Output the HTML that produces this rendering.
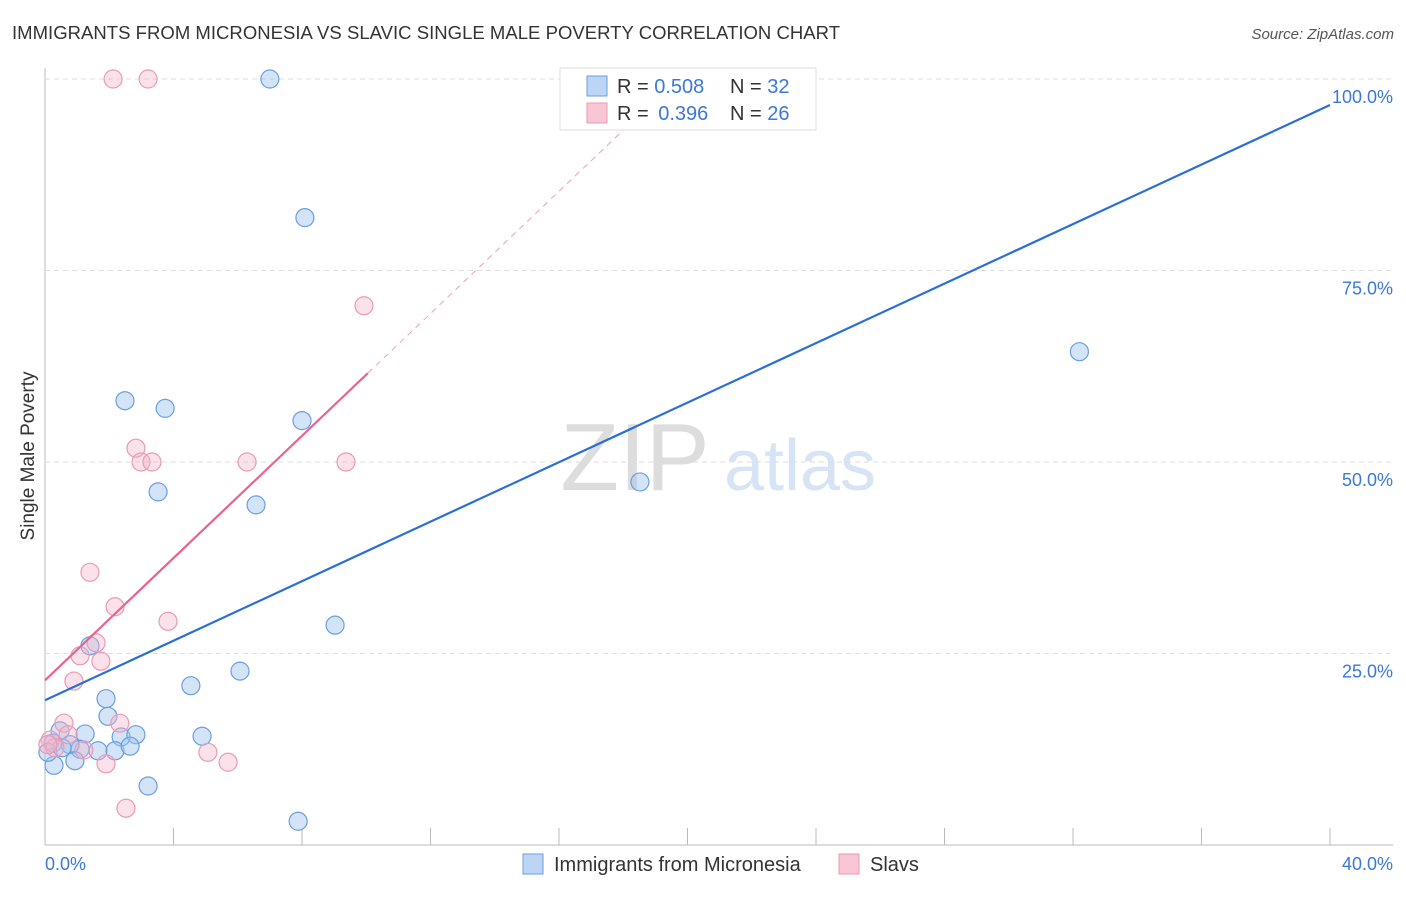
<!DOCTYPE html>
<html><head><meta charset="utf-8"><style>
body{margin:0;background:#fff;font-family:"Liberation Sans",sans-serif}
svg text{font-family:"Liberation Sans",sans-serif}
</style></head><body>
<svg id="c" width="1406" height="892">
<text x="12" y="39" font-size="18.5" fill="#333" textLength="828">IMMIGRANTS FROM MICRONESIA VS SLAVIC SINGLE MALE POVERTY CORRELATION CHART</text>
<text x="1394" y="39" font-size="15" fill="#555" font-style="italic" text-anchor="end">Source: ZipAtlas.com</text>
<text x="635" y="490" font-size="96" fill="#ddd" font-family="Liberation Serif" text-anchor="middle">ZIP</text>
<text x="800" y="490" font-size="72" fill="#d6e4f5" text-anchor="middle">atlas</text>
<g id="grid"></g><g id="pts"></g><g id="trend"></g>
<text transform="translate(34,456) rotate(-90)" font-size="19" fill="#333" text-anchor="middle">Single Male Poverty</text>
<text x="45" y="870" font-size="18" fill="#3b78d8">0.0%</text>
<text x="1393" y="870" font-size="18" fill="#3b78d8" text-anchor="end">40.0%</text>
<g>
<rect x="560" y="68" width="256" height="62" fill="#fff" stroke="#ddd"/>
<rect x="587" y="76" width="20" height="20" fill="#bcd5f5" stroke="#6a9ee0"/>
<rect x="587" y="103" width="20" height="20" fill="#f9c6d6" stroke="#eb9ab4"/>
<text x="617" y="93" font-size="20" fill="#333">R = <tspan fill="#3b78d8">0.508</tspan><tspan x="730">N = </tspan><tspan fill="#3b78d8">32</tspan></text>
<text x="617" y="120" font-size="20" fill="#333">R = <tspan fill="#3b78d8" dx="4">0.396</tspan><tspan x="730">N = </tspan><tspan fill="#3b78d8">26</tspan></text>
</g>
<g>
<rect x="523" y="854" width="20" height="20" fill="#bcd5f5" stroke="#6a9ee0"/>
<text x="554" y="871" font-size="20" fill="#333">Immigrants from Micronesia</text>
<rect x="839" y="854" width="20" height="20" fill="#f9c6d6" stroke="#eb9ab4"/>
<text x="870" y="871" font-size="20" fill="#333">Slavs</text>
</g>
</svg>
<script>
const yTicks=[25,50,75,100];
const yTickLabels=["25.0%","50.0%","75.0%","100.0%"];
const xTicks=[0,4,8,12,16,20,24,28,32,36,40];
const blueX=[7.0,8.09,32.2,2.49,3.74,8.0,3.52,18.52,6.57,9.03,1.40,4.54,6.07,1.90,1.96,4.89,1.25,0.47,2.37,2.83,0.25,1.65,2.18,2.65,1.09,0.78,0.93,0.28,0.09,3.21,7.88,0.53];
const blueY=[100,81.9,64.4,58.0,57.0,55.4,46.1,47.4,44.4,28.7,26.0,20.8,22.7,19.1,16.8,14.2,14.5,14.9,14.1,14.4,13.3,12.3,12.3,12.9,12.5,13.1,11.0,10.4,12.1,7.7,3.1,12.7];
const pinkX=[2.12,3.21,9.93,2.83,2.99,3.33,6.29,9.37,1.40,2.18,3.83,1.59,1.09,1.74,0.90,0.59,2.33,0.72,0.16,0.31,1.21,5.07,1.90,5.70,2.52,0.09];
const pinkY=[100,100,70.4,51.8,50,50,50,50,35.6,31.1,29.2,26.4,24.7,24.0,21.4,15.9,15.9,14.4,13.7,12.7,12.4,12.1,10.6,10.8,4.8,13.1];
const blueTrend=[18.9,96.6];
const pinkTrend=[21.5,61.6];
const xs=v=>45+v*32.125, ys=v=>845-v*7.66;
const NS="http://www.w3.org/2000/svg";
function mk(t,a,p){const e=document.createElementNS(NS,t);for(const k in a)e.setAttribute(k,a[k]);p.appendChild(e);return e;}
const grid=document.getElementById('grid');
mk('line',{x1:45,y1:68,x2:45,y2:845,stroke:'#bbb'},grid);
mk('line',{x1:45,y1:845,x2:1393,y2:845,stroke:'#bbb'},grid);
yTicks.forEach((t,i)=>{
 const l=mk('line',{x1:45,y1:ys(t),x2:1393,y2:ys(t),stroke:'#ddd','stroke-dasharray':'5,4'},grid);
 
 
 const tx=mk('text',{x:1393,y:ys(t)+24,'font-size':18,fill:'#3b78d8','text-anchor':'end'},grid);
 tx.textContent=yTickLabels[i];
 
 
});
xTicks.forEach(t=>{
 const l=mk('line',{x1:xs(t),y1:828,x2:xs(t),y2:845,stroke:'#bbb'},grid);
 
 
});
const pts=document.getElementById('pts');
blueX.forEach((x,i)=>{
 const c=mk('circle',{cx:xs(x),cy:ys(blueY[i]),r:9,fill:'rgba(160,196,240,0.45)',stroke:'#6a9ee0','stroke-width':1.2},pts);
 
 
});
pinkX.forEach((x,i)=>{
 const c=mk('circle',{cx:xs(x),cy:ys(pinkY[i]),r:9,fill:'rgba(245,180,200,0.4)',stroke:'#eb9ab4','stroke-width':1.2},pts);
 
 
});
const tr=document.getElementById('trend');
const ps=(pinkTrend[1]-pinkTrend[0])/10.05;
const d=mk('line',{x1:xs(10.05),y1:ys(pinkTrend[1]),x2:xs(18),y2:ys(pinkTrend[0]+ps*18),stroke:'#eba0b8','stroke-dasharray':'6,5','stroke-width':1},tr);


const b=mk('line',{x1:xs(0),y1:ys(blueTrend[0]),x2:xs(40),y2:ys(blueTrend[1]),stroke:'#2a6fd6','stroke-width':2.2},tr);


const p=mk('line',{x1:xs(0),y1:ys(pinkTrend[0]),x2:xs(10.05),y2:ys(pinkTrend[1]),stroke:'#e8648e','stroke-width':2.2},tr);


</script>
</body></html>
